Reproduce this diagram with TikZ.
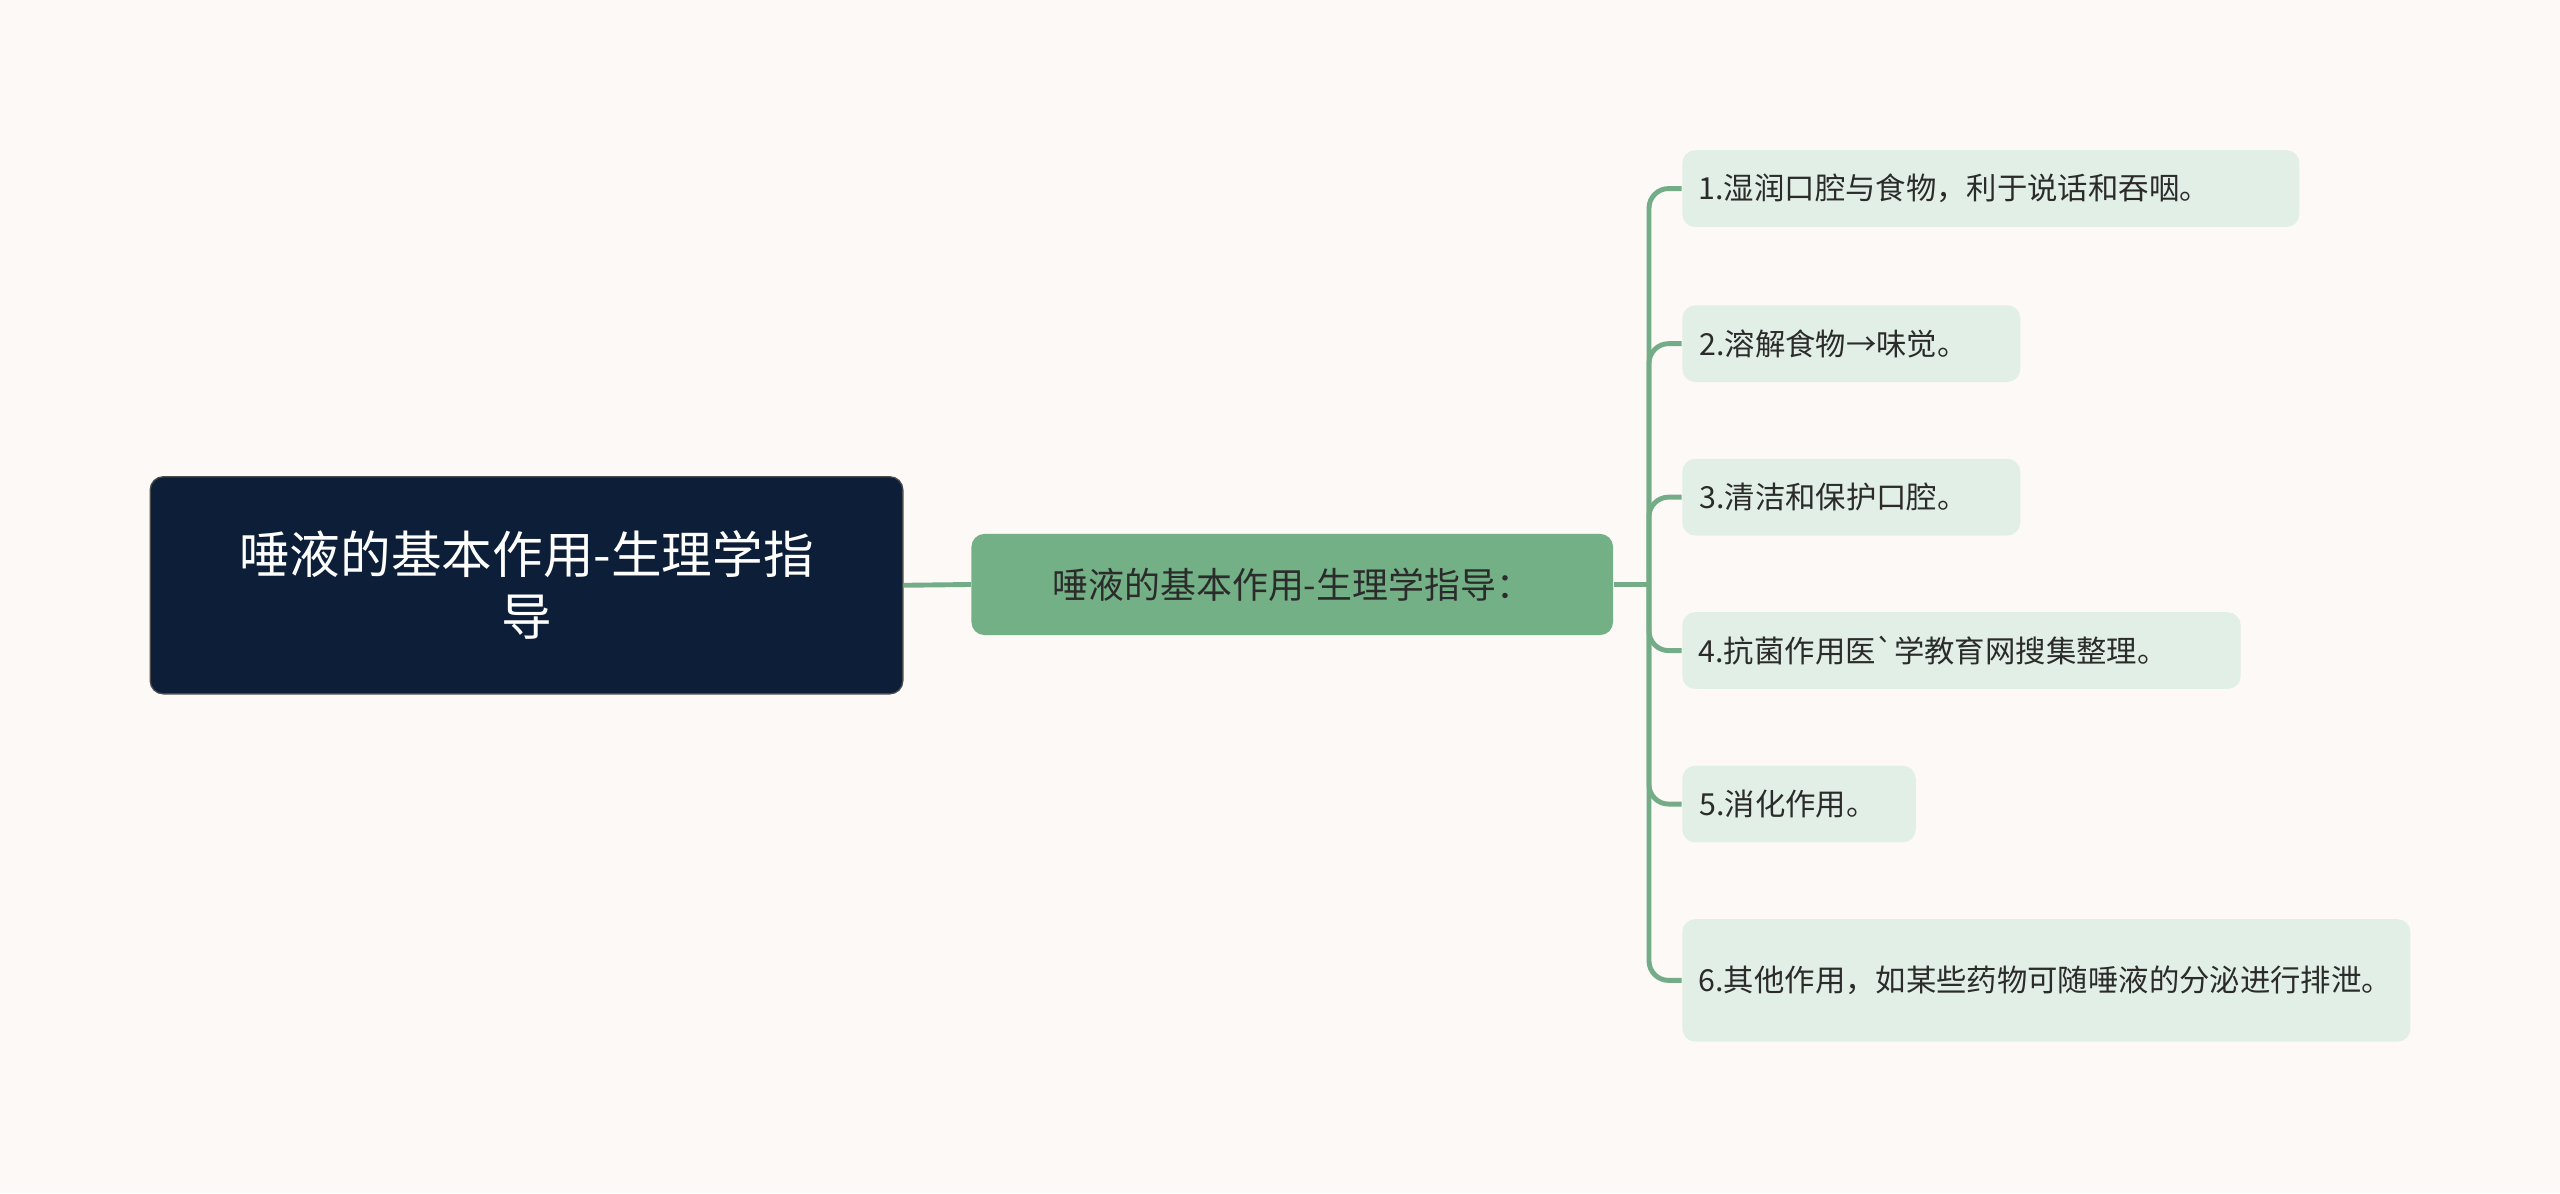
\documentclass[tikz,border=0pt]{standalone}
\usepackage{fontspec}
\newfontfamily\cjk{Noto Sans CJK SC}
\definecolor{bg}{HTML}{FCF9F7}
\definecolor{rootc}{HTML}{0D1F38}
\definecolor{midc}{HTML}{74B086}
\definecolor{leafc}{HTML}{E2EFE6}
\definecolor{linec}{HTML}{74AC87}
\definecolor{txt}{HTML}{2B2B2B}
\begin{document}
\begin{tikzpicture}[x=0.5pt,y=-0.5pt,
  leaf/.style={fill=leafc,rounded corners=4pt,anchor=west,align=left,inner sep=0pt,
    text=txt,font=\cjk\fontsize{9.3}{14}\selectfont},
  conn/.style={draw=linec,line width=1.5pt,rounded corners=6pt}]
\fill[bg] (0,0) rectangle (1568,731);
\useasboundingbox (0,0) rectangle (1568,731);
\node[fill=rootc,draw=black!70,rounded corners=4pt,minimum width=230.5pt,minimum height=66.5pt,
  text width=215pt,align=center,text=white,inner sep=0pt,font=\cjk\fontsize{15.5}{19}\selectfont]
  (root) at (322.5,358.5) {唾液的基本作用-生理学指\\导};
\node[fill=midc,rounded corners=4pt,minimum width=196.5pt,minimum height=31pt,inner sep=0pt,
  text=txt,font=\cjk\fontsize{11}{14}\selectfont] (mid) at (791.5,358) {唾液的基本作用-生理学指导：};
\coordinate (j) at (1010,358);
\node[leaf,minimum width=189pt,minimum height=23.5pt,text width=179pt] (c1) at (1030,115.5) {1.湿润口腔与食物，利于说话和吞咽。};
\node[leaf,minimum width=103.5pt,minimum height=23.5pt,text width=93pt] (c2) at (1030,210.5) {2.溶解食物→味觉。};
\node[leaf,minimum width=103.5pt,minimum height=23.5pt,text width=93pt] (c3) at (1030,304.5) {3.清洁和保护口腔。};
\node[leaf,minimum width=171pt,minimum height=23.5pt,text width=161pt] (c4) at (1030,398.5) {4.抗菌作用医`学教育网搜集整理。};
\node[leaf,minimum width=71.5pt,minimum height=23.5pt,text width=61pt] (c5) at (1030,492.5) {5.消化作用。};
\node[leaf,minimum width=223pt,minimum height=37.5pt,text width=213pt] (c6) at (1030,600.5) {6.其他作用，如某些药物可随唾液的分泌进行排泄。};
\draw[conn] (root.east) -- (mid.west);
\draw[conn] (mid.east) -- (j);
\foreach \c in {c1,c2,c3,c4,c5,c6} \draw[conn] (j) |- (\c.west);
\end{tikzpicture}
\end{document}
